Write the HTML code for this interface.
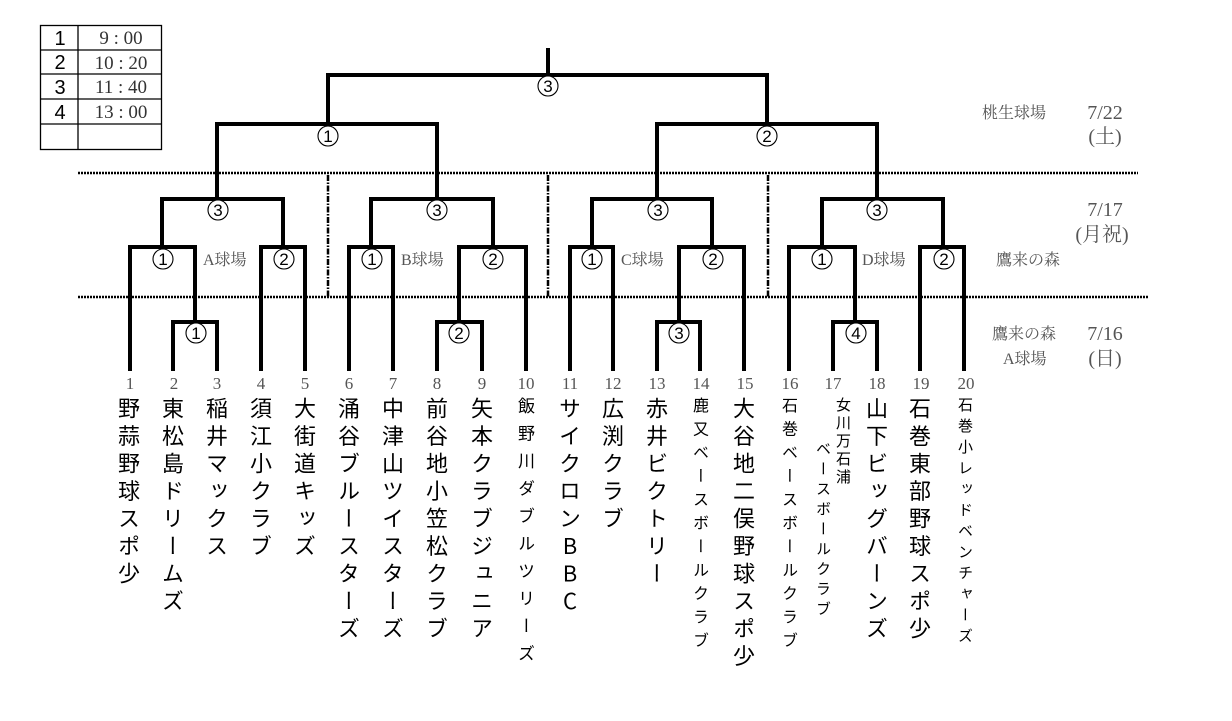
<!DOCTYPE html>
<html><head><meta charset="utf-8"><style>
body{margin:0;background:#fff;width:1232px;height:721px;overflow:hidden;position:relative;font-family:"Liberation Sans","Noto Sans CJK JP",sans-serif}
.v{position:absolute;writing-mode:vertical-rl;text-orientation:upright;font-family:"Noto Sans CJK JP",sans-serif;color:#000;white-space:nowrap}
.b{font-size:22px;letter-spacing:5.5px;width:24px;line-height:24px;top:397px}
.s{font-size:16px;width:18px;line-height:18px;top:397px}
svg{position:absolute;left:0;top:0}
</style></head><body>
<svg width="1232" height="721" xmlns="http://www.w3.org/2000/svg">
<g stroke="#000" stroke-width="1.3" fill="none">
<rect x="40.5" y="25.5" width="121" height="124"/>
<line x1="78" y1="25" x2="78" y2="149"/>
<line x1="40" y1="50" x2="162" y2="50"/><line x1="40" y1="74" x2="162" y2="74"/>
<line x1="40" y1="99" x2="162" y2="99"/><line x1="40" y1="124" x2="162" y2="124"/>
</g>
<g font-family="Liberation Sans,sans-serif" font-size="20" text-anchor="middle">
<text x="60" y="45">1</text><text x="60" y="69">2</text><text x="60" y="94">3</text><text x="60" y="119">4</text></g>
<g font-family="Liberation Serif,serif" font-size="19" text-anchor="middle" fill="#333">
<text x="121" y="44">9 : 00</text><text x="121" y="69">10 : 20</text><text x="121" y="93">11 : 40</text><text x="121" y="118">13 : 00</text></g>
<g stroke="#000" stroke-width="2.5" stroke-dasharray="2,1" fill="none">
<line x1="78" y1="173" x2="1138" y2="173"/>
<line x1="78" y1="297" x2="1148" y2="297"/>
</g>
<g stroke="#000" stroke-width="2.5" stroke-dasharray="6,1.5,1.5,1.5" fill="none">
<line x1="328" y1="175" x2="328" y2="297"/>
<line x1="548" y1="175" x2="548" y2="297"/>
<line x1="768" y1="175" x2="768" y2="297"/>
</g>
<g stroke="#000" stroke-width="4" fill="none" stroke-linejoin="miter">
<path d="M548 48V75M328 124V75H767V124"/>
<path d="M217 199V124H437V199M657 199V124H877V199"/>
<path d="M162 247V199H283V247M371 247V199H493V247M592 247V199H712V247M822 247V199H943V247"/>
<path d="M130 371V247H195V322"/>
<path d="M173 371V322H217V371"/>
<path d="M261 371V247H305V371"/>
<path d="M349 371V247H393V371"/>
<path d="M437 371V322H482V371M459 322V247H526V371"/>
<path d="M570 371V247H613V371"/>
<path d="M657 371V322H700V371M679 322V247H744V371"/>
<path d="M789 371V247H855V322M833 371V322H877V371"/>
<path d="M920 371V247H964V371"/>
</g>
<g fill="#fff" stroke="#000" stroke-width="1.1">
<circle cx="548" cy="86" r="10"/>
<circle cx="328" cy="136" r="10"/><circle cx="767" cy="136" r="10"/>
<circle cx="218" cy="210" r="10"/><circle cx="437" cy="210" r="10"/><circle cx="658" cy="210" r="10"/><circle cx="877" cy="210" r="10"/>
<circle cx="163" cy="259" r="10"/><circle cx="284" cy="259" r="10"/><circle cx="372" cy="259" r="10"/><circle cx="493" cy="259" r="10"/>
<circle cx="592" cy="259" r="10"/><circle cx="713" cy="259" r="10"/><circle cx="822" cy="259" r="10"/><circle cx="944" cy="259" r="10"/>
<circle cx="196" cy="333" r="10"/><circle cx="459" cy="333" r="10"/><circle cx="679" cy="333" r="10"/><circle cx="856" cy="333" r="10"/>
</g>
<g font-family="Liberation Sans,sans-serif" font-size="17" text-anchor="middle" fill="#000">
<text x="548" y="92">3</text>
<text x="328" y="142">1</text><text x="767" y="142">2</text>
<text x="218" y="216">3</text><text x="437" y="216">3</text><text x="658" y="216">3</text><text x="877" y="216">3</text>
<text x="163" y="265">1</text><text x="284" y="265">2</text><text x="372" y="265">1</text><text x="493" y="265">2</text>
<text x="592" y="265">1</text><text x="713" y="265">2</text><text x="822" y="265">1</text><text x="944" y="265">2</text>
<text x="196" y="339">1</text><text x="459" y="339">2</text><text x="679" y="339">3</text><text x="856" y="339">4</text>
</g>
<g font-family="Liberation Serif,Noto Serif CJK SC,serif" font-size="16" fill="#555">
<text x="203" y="265">A球場</text><text x="401" y="265">B球場</text><text x="621" y="265">C球場</text><text x="862" y="265">D球場</text>
<text x="982" y="118">桃生球場</text>
<text x="996" y="265">鷹来の森</text>
<text x="992" y="339">鷹来の森</text>
<text x="1003" y="364">A球場</text>
</g>
<g font-family="Liberation Serif,Noto Serif CJK SC,serif" font-size="20" fill="#555" text-anchor="middle">
<text x="1105" y="119">7/22</text><text x="1105" y="143">(土)</text>
<text x="1105" y="216">7/17</text><text x="1102" y="241">(月祝)</text>
<text x="1105" y="340">7/16</text><text x="1105" y="365">(日)</text>
</g>
<g font-family="Liberation Serif,serif" font-size="17" fill="#555" text-anchor="middle">
<text x="130" y="389">1</text><text x="174" y="389">2</text><text x="217" y="389">3</text><text x="261" y="389">4</text><text x="305" y="389">5</text>
<text x="349" y="389">6</text><text x="393" y="389">7</text><text x="437" y="389">8</text><text x="482" y="389">9</text><text x="526" y="389">10</text>
<text x="570" y="389">11</text><text x="613" y="389">12</text><text x="657" y="389">13</text><text x="701" y="389">14</text><text x="745" y="389">15</text>
<text x="790" y="389">16</text><text x="833" y="389">17</text><text x="877" y="389">18</text><text x="921" y="389">19</text><text x="966" y="389">20</text>
</g>
</svg>
<div class="v b" style="left:117px">野蒜野球スポ少</div>
<div class="v b" style="left:161px">東松島ドリームズ</div>
<div class="v b" style="left:205px">稲井マックス</div>
<div class="v b" style="left:249px">須江小クラブ</div>
<div class="v b" style="left:293px">大街道キッズ</div>
<div class="v b" style="left:337px">涌谷ブルースターズ</div>
<div class="v b" style="left:381px">中津山ツイスターズ</div>
<div class="v b" style="left:425px">前谷地小笠松クラブ</div>
<div class="v b" style="left:470px">矢本クラブジュニア</div>
<div class="v s" style="left:517px;letter-spacing:10.5px;font-size:17px">飯野川ダブルツリーズ</div>
<div class="v b" style="left:558px">サイクロンBBC</div>
<div class="v b" style="left:601px">広渕クラブ</div>
<div class="v b" style="left:645px">赤井ビクトリー</div>
<div class="v s" style="left:692px;letter-spacing:7.5px">鹿又ベースボールクラブ</div>
<div class="v b" style="left:732px">大谷地二俣野球スポ少</div>
<div class="v s" style="left:781px;letter-spacing:7.5px">石巻ベースボールクラブ</div>
<div class="v s" style="left:834px;letter-spacing:3px;font-size:15px">女川万石浦</div>
<div class="v s" style="left:814px;top:441px;letter-spacing:5px;font-size:15px">ベースボールクラブ</div>
<div class="v b" style="left:865px">山下ビッグバーンズ</div>
<div class="v b" style="left:908px">石巻東部野球スポ少</div>
<div class="v s" style="left:956px;letter-spacing:6px;font-size:15px">石巻小レッドベンチャーズ</div>
</body></html>
